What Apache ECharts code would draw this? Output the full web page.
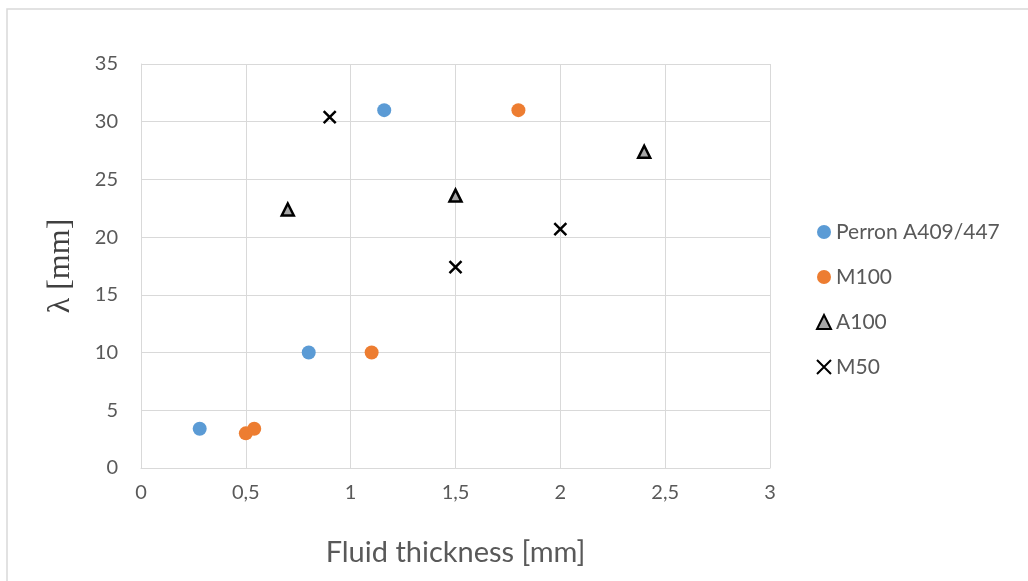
<!DOCTYPE html>
<html><head><meta charset="utf-8">
<script src="https://cdn.jsdelivr.net/npm/echarts@6/dist/echarts.min.js"></script>
<style>html,body{margin:0;padding:0;background:#fff}#c{width:1028px;height:581px}</style>
</head><body><div id="c"></div>
<script>
const perronData = [[0.28, 3.4], [0.8, 10.0], [1.16, 31.0]];
const m100Data = [[0.5, 3.0], [0.54, 3.4], [1.1, 10.0], [1.8, 31.0]];
const a100Data = [[0.7, 22.4], [1.5, 23.6], [2.4, 27.4]];
const m50Data = [[0.9, 30.4], [1.5, 17.4], [2.0, 20.7]];
const seriesNames = ['Perron A409/447', 'M100', 'A100', 'M50'];
const xTitle = 'Fluid thickness [mm]';
const yTitle = 'λ [mm]';

const font = 'Lato, "Open Sans", sans-serif';
const cross = 'path://M0,0 L10,10 M10,0 L0,10';
const chart = echarts.init(document.getElementById('c'));
chart.setOption({
  animation: false,
  graphic: [{type: 'rect', shape: {x: 7, y: 9, width: 1040, height: 600}, style: {fill: 'none', stroke: '#d9d9d9', lineWidth: 1.5}, silent: true}],
  grid: {left: 141, right: 258, top: 64, bottom: 113},
  xAxis: {
    type: 'value', min: 0, max: 3, interval: 0.5,
    name: xTitle, nameLocation: 'middle', nameGap: 70,
    nameTextStyle: {fontFamily: font, fontSize: 29, color: '#595959'},
    axisLine: {show: true, lineStyle: {color: '#d9d9d9'}},
    axisTick: {show: false},
    splitLine: {show: true, lineStyle: {color: '#d9d9d9'}},
    axisLabel: {fontFamily: font, fontSize: 20, color: '#595959', margin: 15,
      formatter: v => String(v).replace('.', ',')}
  },
  yAxis: {
    type: 'value', min: 0, max: 35, interval: 5,
    name: yTitle, nameLocation: 'middle', nameGap: 64, nameRotate: 90,
    nameTextStyle: {fontFamily: '"Liberation Serif", "DejaVu Serif", serif', fontSize: 32, color: '#404040'},
    axisLine: {show: true, lineStyle: {color: '#d9d9d9'}},
    axisTick: {show: false},
    splitLine: {show: true, lineStyle: {color: '#d9d9d9'}},
    axisLabel: {fontFamily: font, fontSize: 20, color: '#595959', margin: 23}
  },
  legend: {
    orient: 'vertical', left: 811, top: 215, itemGap: 21, itemWidth: 14, itemHeight: 14,
    textStyle: {fontFamily: font, fontSize: 21, color: '#595959', lineHeight: 24},
    data: seriesNames.map(n => ({name: n}))
  },
  series: [
    {name: seriesNames[0], type: 'scatter', data: perronData, symbol: 'circle', symbolSize: 14, itemStyle: {color: '#5b9bd5', opacity: 1}},
    {name: seriesNames[1], type: 'scatter', data: m100Data, symbol: 'circle', symbolSize: 14, itemStyle: {color: '#ed7d31', opacity: 1}},
    {name: seriesNames[2], type: 'scatter', data: a100Data, symbol: 'triangle', symbolSize: [12, 12], itemStyle: {color: '#a6a6a6', borderColor: '#000', borderWidth: 2.5, opacity: 1}},
    {name: seriesNames[3], type: 'scatter', data: m50Data, symbol: cross, symbolSize: 12, itemStyle: {color: '#000', borderColor: '#000', borderWidth: 2.5, opacity: 1}}
  ]
});
</script></body></html>
